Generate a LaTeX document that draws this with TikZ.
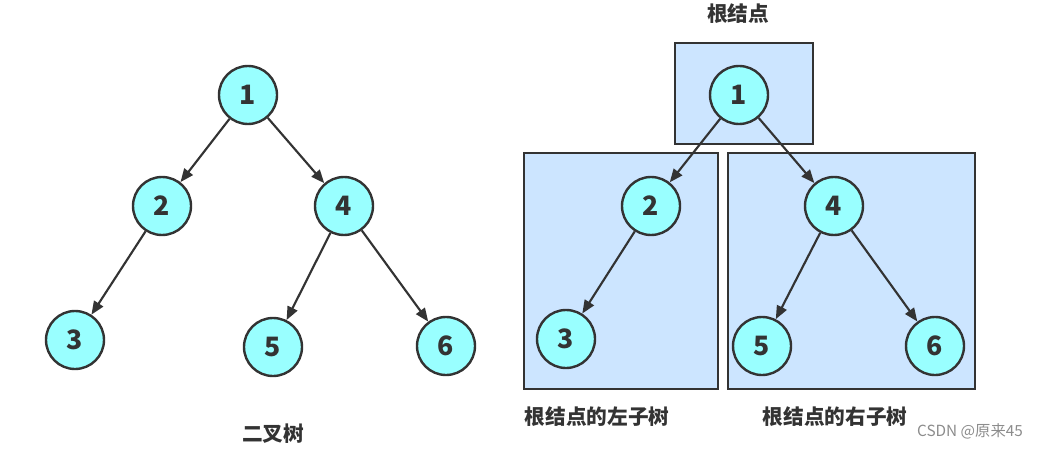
\documentclass[tikz,border=0pt]{standalone}
\usepackage{fontspec}
\setmainfont{Noto Sans CJK SC}
\definecolor{treeCyan}{HTML}{99FFFF}
\definecolor{treeBlue}{HTML}{CCE5FF}
\definecolor{treeDark}{HTML}{333333}
\usetikzlibrary{arrows.meta, positioning}

\begin{document}
\begin{tikzpicture}[x=0.75pt, y=-0.75pt,
        treenode/.style={circle, draw=treeDark, line width=1.8pt, fill=treeCyan, minimum size=43.5pt, inner sep=0pt, text=treeDark, font=\bfseries\fontsize{20}{20}\selectfont},
        treeedge/.style={draw=treeDark, line width=1.6pt, -{Triangle[length=10pt, width=8pt]}},
        subtree/.style={draw=treeDark, line width=1.8pt, fill=treeBlue},
        caption/.style={text=treeDark, font=\bfseries\fontsize{15.5}{15.5}\selectfont}]
        \useasboundingbox (0,0) rectangle (1045,449);

        % Binary tree
        \node[treenode] (l1) at (248,95) {1};
        \node[treenode] (l2) at (162,206) {2};
        \node[treenode] (l4) at (344,206) {4};
        \node[treenode] (l3) at (75,340) {3};
        \node[treenode] (l5) at (273,347) {5};
        \node[treenode] (l6) at (446,346) {6};
        \draw[treeedge] (l1) -- (l2);
        \draw[treeedge] (l1) -- (l4);
        \draw[treeedge] (l2) -- (l3);
        \draw[treeedge] (l4) -- (l5);
        \draw[treeedge] (l4) -- (l6);
        \node[caption] (ltitle) at (273,434) {二叉树};

        % Root and its subtrees
        \draw[subtree] (675,43) rectangle (813,144);
        \draw[subtree] (524,153) rectangle (718,389);
        \draw[subtree] (728,153) rectangle (975,389);
        \node[treenode] (r1) at (739,95) {1};
        \node[treenode] (r2) at (651,206) {2};
        \node[treenode] (r4) at (834,206) {4};
        \node[treenode] (r3) at (566,339) {3};
        \node[treenode] (r5) at (762,346) {5};
        \node[treenode] (r6) at (935,346) {6};
        \draw[treeedge] (r1) -- (r2);
        \draw[treeedge] (r1) -- (r4);
        \draw[treeedge] (r2) -- (r3);
        \draw[treeedge] (r4) -- (r5);
        \draw[treeedge] (r4) -- (r6);
        \node[caption] (rtitle) at (738,14) {根结点};
        \node[caption] (lsub) at (597,417) {根结点的左子树};
        \node[caption] (rsub) at (835,417) {根结点的右子树};
        \node[text=black!45, font=\fontsize{11.5}{11.5}\selectfont] (mark) at (970,431) {CSDN @原来45};
\end{tikzpicture}
\end{document}
